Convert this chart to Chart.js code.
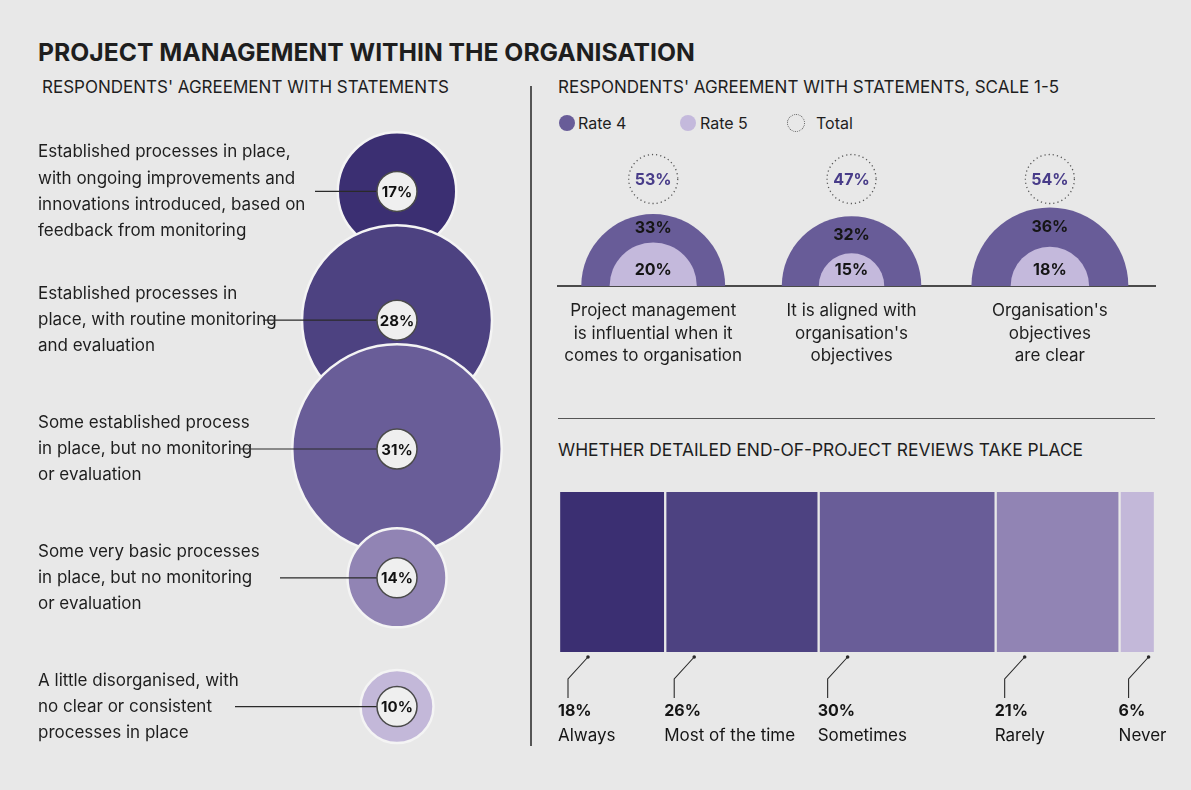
<!DOCTYPE html>
<html>
<head>
<meta charset="utf-8">
<title>Project management within the organisation</title>
<script src="https://cdn.jsdelivr.net/npm/chart.js@4.4.1/dist/chart.umd.min.js"></script>
<style>
  body { margin: 0; background: #e8e8e8; font-family: Inter, Lato, sans-serif; color: #1e1e1e; }
  #page { position: relative; width: 1191px; height: 790px; overflow: hidden; background: #e8e8e8; }
  .txt { position: absolute; white-space: nowrap; line-height: 1; }
  .title { left: 38px; top: 40px; font-size: 24.7px; font-weight: 700; }
  .sub { font-size: 17px; top: 79px; }
  .leg { font-size: 16px; top: 115px; }
  .dot { position: absolute; width: 16px; height: 16px; border-radius: 50%; }
  .rule { position: absolute; background: #555; }
  canvas { position: absolute; }
</style>
</head>
<body>
<div id="page">
  <div class="txt title">PROJECT MANAGEMENT WITHIN THE ORGANISATION</div>
  <div class="txt sub" style="left:42px">RESPONDENTS' AGREEMENT WITH STATEMENTS</div>
  <div class="txt sub" style="left:558px">RESPONDENTS' AGREEMENT WITH STATEMENTS, SCALE 1-5</div>

  <div class="dot" style="left:559px;top:115px;background:#685c98"></div>
  <div class="txt leg" style="left:578px">Rate 4</div>
  <div class="dot" style="left:680px;top:115px;background:#c4b9dc"></div>
  <div class="txt leg" style="left:700px">Rate 5</div>
  <div class="dot" style="left:787px;top:114px;border:1.5px dotted #555"></div>
  <div class="txt leg" style="left:816px">Total</div>

  <div class="txt sub" style="left:558px;top:441px;font-size:17.4px">WHETHER DETAILED END-OF-PROJECT REVIEWS TAKE PLACE</div>

  <div class="rule" style="left:530px;top:86px;width:1.5px;height:660px"></div>
  <div class="rule" style="left:558px;top:418px;width:597px;height:1px"></div>

  <canvas id="statementsChart" width="530" height="690" style="left:0;top:100px"></canvas>
  <canvas id="agreementChart" width="620" height="250" style="left:550px;top:140px"></canvas>
  <canvas id="reviewsChart" width="620" height="280" style="left:550px;top:480px"></canvas>
</div>

<script>
const FONT = "Inter, Lato, sans-serif";
Chart.defaults.font.family = FONT;
Chart.defaults.color = '#1e1e1e';
Chart.defaults.events = [];
Chart.defaults.plugins.legend.display = false;
Chart.defaults.plugins.tooltip.enabled = false;

// Respondents' agreement with statements (left)
const statements = [
    ['Established processes in place,', 'with ongoing improvements and', 'innovations introduced, based on', 'feedback from monitoring'],
    ['Established processes in', 'place, with routine monitoring', 'and evaluation'],
    ['Some established process', 'in place, but no monitoring', 'or evaluation'],
    ['Some very basic processes', 'in place, but no monitoring', 'or evaluation'],
    ['A little disorganised, with', 'no clear or consistent', 'processes in place']
];
const statementShares = [17, 28, 31, 14, 10];

// Agreement with statements, scale 1-5 (top right)
const agreementLabels = [
    ['Project management', 'is influential when it', 'comes to organisation'],
    ['It is aligned with', "organisation's", 'objectives'],
    ["Organisation's", 'objectives', 'are clear']
];
const rate4 = [33, 32, 36];
const rate5 = [20, 15, 18];

// Whether detailed end-of-project reviews take place (bottom right)
const reviewLabels = ['Always', 'Most of the time', 'Sometimes', 'Rarely', 'Never'];
const reviewShares = [18, 26, 30, 21, 6];

const purples = ['#3b2f72', '#4d4281', '#695d98', '#9184b4', '#c3b8d9'];
const BG = '#e8e8e8';

// --- bubbles on the left ---
const leaderStart = [315, 263, 240, 280, 235];
const bubbleLabels = {
    id: 'bubbleLabels',
    afterDatasetsDraw(chart) {
        const ctx = chart.ctx;
        chart.getDatasetMeta(0).data.forEach((pt, i) => {
            ctx.save();
            ctx.strokeStyle = '#2a2a2a';
            ctx.lineWidth = 1.2;
            ctx.beginPath();
            ctx.moveTo(leaderStart[i], pt.y);
            ctx.lineTo(pt.x - 20, pt.y);
            ctx.stroke();
            ctx.beginPath();
            ctx.arc(pt.x, pt.y, 20, 0, Math.PI * 2);
            ctx.fillStyle = '#efefef';
            ctx.fill();
            ctx.strokeStyle = '#4a4a4a';
            ctx.lineWidth = 1.5;
            ctx.stroke();
            ctx.fillStyle = '#111';
            ctx.font = `700 15px ${FONT}`;
            ctx.textAlign = 'center';
            ctx.textBaseline = 'middle';
            ctx.fillText(statementShares[i] + '%', pt.x, pt.y + 1);
            ctx.restore();
        });
    }
};

new Chart(document.getElementById('statementsChart'), {
    type: 'bubble',
    data: {
        datasets: [{
            data: statementShares.map((v, i) => ({ x: 0.5, y: i, r: 4 + v * 3.25 })),
            backgroundColor: purples,
            borderColor: '#f4f4f4',
            borderWidth: 2.5,
            clip: false
        }]
    },
    options: {
        responsive: false,
        animation: false,
        layout: { autoPadding: false, padding: { left: 38, right: 56, top: 27, bottom: 19 } },
        scales: {
            x: { display: false, min: 0, max: 1 },
            y: {
                reverse: true, min: -0.5, max: 4.5,
                afterBuildTicks: s => { s.ticks = statements.map((_, i) => ({ value: i })); },
                afterFit: s => { s.width = 282; s.paddingTop = 0; s.paddingBottom = 0; },
                grid: { display: false, drawTicks: false },
                border: { display: false },
                ticks: {
                    autoSkip: false, crossAlign: 'far', padding: 0, color: '#1e1e1e',
                    font: { size: 17, lineHeight: 1.53 },
                    callback: v => statements[v]
                }
            }
        }
    },
    plugins: [bubbleLabels]
});

// --- half circles, top right ---
const SEMI = 2.18;
const semiLabels = {
    id: 'semiLabels',
    afterDatasetsDraw(chart) {
        const ctx = chart.ctx;
        const outer = chart.getDatasetMeta(0).data;
        const inner = chart.getDatasetMeta(1).data;
        outer.forEach((pt, i) => {
            const base = pt.y;
            const ro = pt.options.radius, ri = inner[i].options.radius;
            ctx.save();
            ctx.textAlign = 'center';
            ctx.textBaseline = 'middle';
            ctx.font = `700 16px ${FONT}`;
            ctx.fillStyle = '#151515';
            ctx.fillText(rate4[i] + '%', pt.x, base - (ro + ri) / 2);
            ctx.fillText(rate5[i] + '%', pt.x, base - 16);
            // dotted total
            ctx.beginPath();
            ctx.setLineDash([1.2, 3]);
            ctx.strokeStyle = '#555';
            ctx.lineWidth = 1.3;
            ctx.arc(pt.x, base - 107, 24.5, 0, Math.PI * 2);
            ctx.stroke();
            ctx.fillStyle = '#483c89';
            ctx.fillText((rate4[i] + rate5[i]) + '%', pt.x, base - 106);
            ctx.restore();
        });
    }
};

const halfClip = { left: false, right: false, top: false, bottom: 0 };
new Chart(document.getElementById('agreementChart'), {
    type: 'bubble',
    data: {
        datasets: [
            { label: 'Rate 4', order: 1, data: rate4.map((v, i) => ({ x: i, y: 0, r: v * SEMI })), backgroundColor: '#685c98', borderWidth: 0, clip: halfClip },
            { label: 'Rate 5', order: 0, data: rate5.map((v, i) => ({ x: i, y: 0, r: v * SEMI })), backgroundColor: '#c4b9dc', borderWidth: 0, clip: halfClip }
        ]
    },
    options: {
        responsive: false,
        animation: false,
        layout: { autoPadding: false, padding: { left: 8, right: 15, top: 10, bottom: 8 } },
        scales: {
            x: {
                min: -0.48, max: 2.53, z: 1,
                afterBuildTicks: s => { s.ticks = agreementLabels.map((_, i) => ({ value: i })); },
                afterFit: s => { s.height = 96; },
                grid: { display: false, drawTicks: false },
                border: { display: true, color: '#4a4a4a', width: 2 },
                ticks: {
                    autoSkip: false, maxRotation: 0, padding: 13, color: '#1e1e1e',
                    font: { size: 17, lineHeight: 1.35 },
                    callback: v => agreementLabels[v]
                }
            },
            y: { display: false, min: 0, max: 1 }
        }
    },
    plugins: [semiLabels]
});

// --- stacked bar, bottom right ---
const reviewTotal = reviewShares.reduce((a, b) => a + b, 0);
const reviewNotes = {
    id: 'reviewNotes',
    afterDatasetsDraw(chart) {
        const ctx = chart.ctx;
        const bottom = chart.chartArea.bottom;
        chart.data.datasets.forEach((ds, i) => {
            const bar = chart.getDatasetMeta(i).data[0];
            const left = Math.min(bar.base, bar.x);
            ctx.save();
            ctx.strokeStyle = '#2a2a2a';
            ctx.fillStyle = '#2a2a2a';
            ctx.lineWidth = 1.1;
            ctx.beginPath();
            ctx.arc(left + 29, bottom + 5, 1.8, 0, Math.PI * 2);
            ctx.fill();
            ctx.beginPath();
            ctx.moveTo(left + 29, bottom + 5);
            ctx.lineTo(left + 9, bottom + 27);
            ctx.lineTo(left + 9, bottom + 46);
            ctx.stroke();
            ctx.textAlign = 'left';
            ctx.textBaseline = 'alphabetic';
            ctx.fillStyle = '#151515';
            ctx.font = `700 16px ${FONT}`;
            ctx.fillText(reviewShares[i] + '%', left - 1, bottom + 64);
            ctx.font = `400 17px ${FONT}`;
            ctx.fillText(reviewLabels[i], left - 1, bottom + 89);
            ctx.restore();
        });
    }
};

new Chart(document.getElementById('reviewsChart'), {
    type: 'bar',
    data: {
        labels: [''],
        datasets: reviewLabels.map((label, i) => ({
            label,
            data: [reviewShares[i]],
            backgroundColor: purples[i],
            borderColor: BG,
            borderWidth: { left: 1.5, right: 1.5, top: 0, bottom: 0 },
            borderSkipped: false,
            barPercentage: 1,
            categoryPercentage: 1
        }))
    },
    options: {
        indexAxis: 'y',
        responsive: false,
        animation: false,
        layout: { padding: { left: 9, right: 15, top: 12, bottom: 108 } },
        scales: {
            x: { stacked: true, display: false, min: 0, max: reviewTotal },
            y: { stacked: true, display: false }
        }
    },
    plugins: [reviewNotes]
});
</script>
</body>
</html>
